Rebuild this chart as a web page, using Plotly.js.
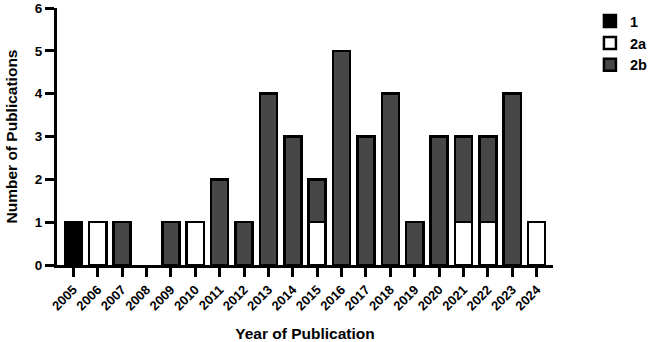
<!DOCTYPE html>
<html>
<head>
<meta charset="utf-8">
<script src="https://cdn.plot.ly/plotly-3.0.1.min.js"></script>
<style>html,body{margin:0;padding:0;background:#fff;}#chart{width:649px;height:342px;}</style>
</head>
<body>
<div id="chart"></div>
<script>
const years = ['2005','2006','2007','2008','2009','2010','2011','2012','2013','2014','2015','2016','2017','2018','2019','2020','2021','2022','2023','2024'];
const level1  = [1,0,0,0,0,0,0,0,0,0,0,0,0,0,0,0,0,0,0,0];
const level2a = [0,1,0,0,0,1,0,0,0,0,1,0,0,0,0,0,1,1,0,1];
const level2b = [0,0,1,0,1,0,2,1,4,3,1,5,3,4,1,3,2,2,4,0];
const seriesNames = ['1','2a','2b'];
const seriesColors = ['#000000','#ffffff','#474747'];
const yTicks = [0,1,2,3,4,5,6];

const fam = 'Liberation Sans, Arial, sans-serif';
const data = [level1, level2a, level2b].map((v,i)=>({
  type:'bar', x:years, y:v.map(d => d === 0 ? null : d), name:seriesNames[i], width:0.7,
  marker:{color:seriesColors[i], line:{color:'#000', width:2.5}},
  hoverinfo:'skip'
}));
const layout = {
  width:649, height:342,
  margin:{l:57, r:96, t:8, b:77, autoexpand:false},
  paper_bgcolor:'#fff', plot_bgcolor:'#fff',
  barmode:'stack', bargap:0.3,
  font:{family:fam, color:'#000', weight:'bold'},
  showlegend:true,
  legend:{xref:'container', yref:'container', x:0.909, y:0.985, xanchor:'left', yanchor:'top', traceorder:'normal',
          font:{family:fam, size:14.5, color:'#000', weight:'bold'}, itemwidth:30, tracegroupgap:0},
  xaxis:{type:'category', range:[-0.67,19.67], tickangle:-45,
         tickfont:{family:fam, size:13, weight:'bold', color:'#000'},
         showline:true, linecolor:'#000', linewidth:3, ticks:'outside', ticklen:9, tickwidth:3, tickcolor:'#000',
         showgrid:false, zeroline:false,
         title:{text:'Year of Publication', font:{family:fam, size:15.5, weight:'bold', color:'#000'}, standoff:17}},
  yaxis:{range:[0,6], tickvals:yTicks, ticktext:yTicks.map(String),
         tickfont:{family:fam, size:13.5, weight:'bold', color:'#000'},
         showline:true, linecolor:'#000', linewidth:3, ticks:'outside', ticklen:9, tickwidth:3, tickcolor:'#000',
         showgrid:false, zeroline:false,
         title:{text:'Number of Publications', font:{family:fam, size:15.5, weight:'bold', color:'#000'}, standoff:14}}
};
Plotly.newPlot('chart', data, layout, {staticPlot:true, displayModeBar:false});
</script>
</body>
</html>
